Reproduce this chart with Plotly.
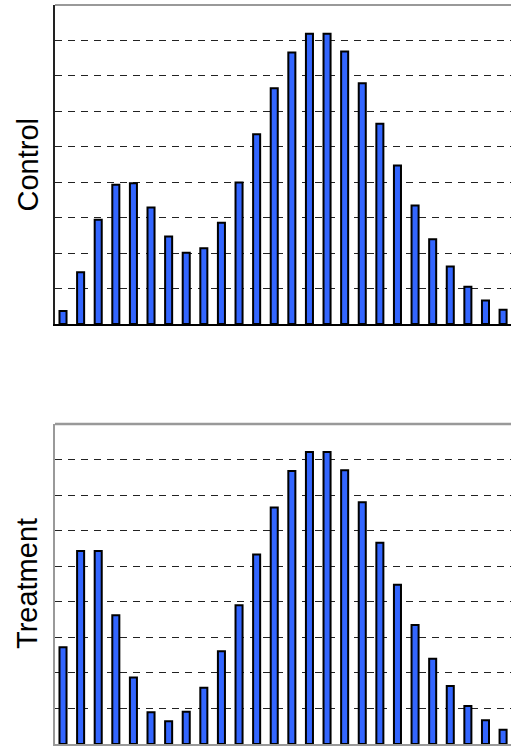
import plotly.graph_objects as go

categories = list(range(26))
control = [0.37, 1.46, 2.94, 3.93, 3.97, 3.29, 2.47, 2.01, 2.14, 2.86, 3.99, 5.35,
           6.65, 7.66, 8.19, 8.19, 7.69, 6.79, 5.65, 4.47, 3.34, 2.39, 1.62, 1.05, 0.66, 0.40]
treatment = [2.72, 5.43, 5.43, 3.62, 1.87, 0.89, 0.64, 0.91, 1.58, 2.61, 3.90, 5.33,
             6.65, 7.68, 8.21, 8.21, 7.70, 6.80, 5.66, 4.48, 3.35, 2.40, 1.63, 1.07, 0.67, 0.40]
grid_vals = [1, 2, 3, 4, 5, 6, 7, 8, 9]

fig = go.Figure()
bar_style = dict(marker=dict(color="#3366FF", line=dict(color="black", width=2)),
                 width=0.4, showlegend=False, hoverinfo="skip")
fig.add_trace(go.Bar(x=categories, y=control, xaxis="x", yaxis="y", **bar_style))
fig.add_trace(go.Bar(x=categories, y=treatment, xaxis="x2", yaxis="y2", **bar_style))

xr = [-0.455, 25.45]
common_y = dict(range=[0, 9], tickvals=grid_vals, showticklabels=False, ticks="",
                showgrid=True, gridcolor="#222222", griddash="7px,6px", gridwidth=1.2,
                zeroline=False)
common_x = dict(range=xr, showticklabels=False, ticks="", showgrid=False, zeroline=False)

top_dom = [1 - 319 / 739, 1]
bot_dom = [0, 1 - 419 / 739]

fig.update_layout(
    width=511, height=746,
    margin=dict(l=55, r=0, t=5, b=2),
    paper_bgcolor="white", plot_bgcolor="white",
    font=dict(family="Liberation Sans, Arial, sans-serif", color="black"),
    xaxis=dict(domain=[0, 1], anchor="y", showline=True, linecolor="black", linewidth=1.5, **common_x),
    yaxis=dict(domain=top_dom, anchor="x", showline=True, linecolor="#222222", linewidth=1.5, **common_y),
    xaxis2=dict(domain=[0, 1], anchor="y2", showline=True, linecolor="#999999", linewidth=2, **common_x),
    yaxis2=dict(domain=bot_dom, anchor="x2", showline=True, linecolor="#999999", linewidth=2, **common_y),
    shapes=[
        dict(type="line", xref="x domain", yref="y domain", x0=0, x1=1, y0=1, y1=1,
             line=dict(color="#999999", width=2), layer="below"),
        dict(type="line", xref="x2 domain", yref="y2 domain", x0=0, x1=1, y0=1, y1=1,
             line=dict(color="#999999", width=2.5), layer="above"),
    ],
    annotations=[
        dict(text="Control", xref="paper", yref="paper", x=-0.0614, y=(top_dom[0] + top_dom[1]) / 2,
             textangle=-90, showarrow=False, font=dict(size=29), xanchor="center", yanchor="middle"),
        dict(text="Treatment", xref="paper", yref="paper", x=-0.0614, y=(bot_dom[0] + bot_dom[1]) / 2,
             textangle=-90, showarrow=False, font=dict(size=29), xanchor="center", yanchor="middle"),
    ],
)

fig.write_html("out.html", config={"displayModeBar": False},
               post_script="document.body.style.margin='0';document.body.style.overflow='hidden';")
